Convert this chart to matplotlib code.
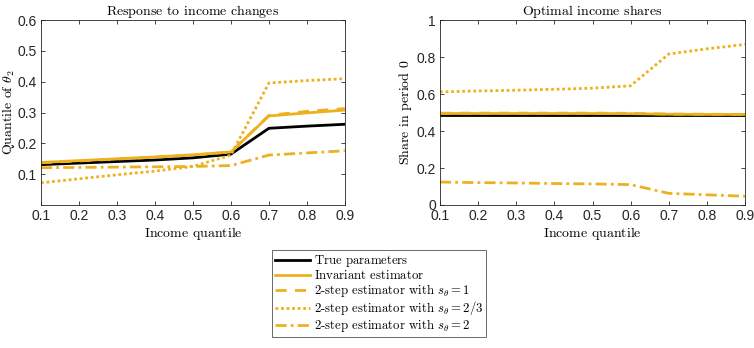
import matplotlib
matplotlib.use("Agg")
import matplotlib.pyplot as plt
import numpy as np

plt.rcParams['mathtext.fontset'] = 'cm'
plt.rcParams['font.family'] = 'Liberation Sans'

x = [0.1, 0.2, 0.3, 0.4, 0.5, 0.6, 0.7, 0.8, 0.9]

# response to income changes (quantile of theta_2)
resp_true = [0.131, 0.136, 0.141, 0.146, 0.153, 0.165, 0.249, 0.256, 0.262]
resp_inv = [0.138, 0.144, 0.150, 0.156, 0.163, 0.172, 0.289, 0.299, 0.308]
resp_s1 = [0.137, 0.143, 0.149, 0.155, 0.162, 0.172, 0.291, 0.304, 0.313]
resp_s23 = [0.072, 0.085, 0.098, 0.110, 0.125, 0.162, 0.396, 0.404, 0.410]
resp_s2 = [0.121, 0.122, 0.123, 0.124, 0.125, 0.128, 0.162, 0.169, 0.176]

# optimal income shares (share in period 0)
share_true = [0.488, 0.488, 0.488, 0.488, 0.488, 0.488, 0.488, 0.488, 0.488]
share_inv = [0.495, 0.495, 0.495, 0.495, 0.495, 0.494, 0.491, 0.490, 0.490]
share_s1 = [0.497, 0.497, 0.497, 0.497, 0.497, 0.496, 0.492, 0.491, 0.490]
share_s23 = [0.612, 0.617, 0.621, 0.626, 0.632, 0.645, 0.817, 0.845, 0.869]
share_s2 = [0.124, 0.121, 0.119, 0.116, 0.114, 0.110, 0.063, 0.055, 0.047]

labels = [r'$\text{True parameters}$', r'$\text{Invariant estimator}$',
          r'$\text{2-step estimator with }s_\theta=1$',
          r'$\text{2-step estimator with }s_\theta=2/3$',
          r'$\text{2-step estimator with }s_\theta=2$']

orange = '#EDB120'

fig = plt.figure(figsize=(7.54, 3.48), dpi=100)
ax1 = fig.add_axes([0.0544, 0.411, 0.403, 0.531])
ax2 = fig.add_axes([0.5836, 0.411, 0.4045, 0.531])

def draw(ax, ys):
    h = []
    h += ax.plot(x, ys[0], color='black', lw=2.0)
    h += ax.plot(x, ys[1], color=orange, lw=2.0)
    h += ax.plot(x, ys[2], color=orange, lw=2.0, ls=(0, (4, 3)))
    h += ax.plot(x, ys[3], color=orange, lw=2.0, ls=(0, (1, 1)))
    h += ax.plot(x, ys[4], color=orange, lw=2.0, ls=(0, (4, 1.5, 1, 1.5)))
    return h

h = draw(ax1, [resp_true, resp_inv, resp_s1, resp_s23, resp_s2])
draw(ax2, [share_true, share_inv, share_s1, share_s23, share_s2])

ax1.set_xlim(0.1, 0.9)
ax1.set_ylim(0, 0.6)
ax1.set_yticks([0.1, 0.2, 0.3, 0.4, 0.5, 0.6])
ax1.set_title(r'$\text{Response to income changes}$', fontsize=10, pad=4)
ax1.set_xlabel(r'$\text{Income quantile}$', fontsize=10, labelpad=1)
ax1.set_ylabel(r'$\text{Quantile of }\theta_2$', fontsize=10, labelpad=0)

ax2.set_xlim(0.1, 0.9)
ax2.set_ylim(0, 1)
ax2.set_yticks([0, 0.2, 0.4, 0.6, 0.8, 1])
ax2.set_yticklabels(['0', '0.2', '0.4', '0.6', '0.8', '1'])
ax2.set_title(r'$\text{Optimal income shares}$', fontsize=10, pad=4)
ax2.set_xlabel(r'$\text{Income quantile}$', fontsize=10, labelpad=1)
ax2.set_ylabel(r'$\text{Share in period 0}$', fontsize=10, labelpad=2)

for ax in (ax1, ax2):
    ax.set_xticks(x)
    ax.set_xticklabels(['0.1', '0.2', '0.3', '0.4', '0.5', '0.6', '0.7', '0.8', '0.9'])
    ax.tick_params(direction='in', top=True, right=True, labelsize=10,
                   length=3, width=0.6, colors='#262626', pad=3)
    for s in ax.spines.values():
        s.set_linewidth(0.6)
        s.set_color('#262626')

leg = fig.legend(h, labels, loc='upper left', bbox_to_anchor=(0.361, 0.2816),
                 fontsize=9.2, frameon=True, fancybox=False, edgecolor='#262626',
                 handlelength=2.7, handletextpad=0.3, labelspacing=0.0,
                 borderpad=0.25, borderaxespad=0)
leg.get_frame().set_linewidth(0.6)

fig.savefig('out.png', dpi=100)
